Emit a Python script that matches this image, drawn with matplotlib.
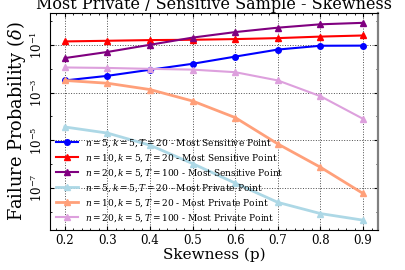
import numpy as np
import matplotlib
matplotlib.use('Agg')
import matplotlib.pyplot as plt
from matplotlib.ticker import FixedLocator, MultipleLocator, NullFormatter

# skewness values on the x axis
skew = [0.2, 0.3, 0.4, 0.5, 0.6, 0.7, 0.8, 0.9]

# most sensitive point
sens_n5 = [3.2e-3, 5.0e-3, 9.0e-3, 1.6e-2, 3.2e-2, 6.3e-2, 9.1e-2, 9.2e-2]
sens_n10 = [0.138, 0.147, 0.157, 0.162, 0.173, 0.19, 0.22, 0.245]
sens_n20 = [0.0277, 0.05, 0.1, 0.2, 0.34, 0.52, 0.72, 0.83]

# most private point
priv_n5 = [3.6e-5, 2.0e-5, 6.2e-6, 1.05e-6, 1.6e-7, 2.5e-8, 8.5e-9, 4.5e-9]
priv_n10 = [3.2e-3, 2.45e-3, 1.33e-3, 4.4e-4, 8.9e-5, 7.0e-6, 7.4e-7, 5.9e-8]
priv_n20 = [0.0112, 0.0107, 0.0098, 0.0091, 0.0071, 0.0032, 7.0e-4, 7.9e-5]

plt.rcParams['font.family'] = 'DejaVu Serif'
plt.rcParams['mathtext.fontset'] = 'dejavuserif'

fig = plt.figure(figsize=(4.06, 2.7), dpi=100)
ax = fig.add_axes([0.123, 0.148, 0.808, 0.804])

ax.plot(skew, sens_n5, color='blue', marker='o', ms=4, lw=1.5,
        label=r'$n=5, k=5, T=20$ - Most Sensitive Point')
ax.plot(skew, sens_n10, color='red', marker='^', ms=4, lw=1.5,
        label=r'$n=10, k=5, T=20$ - Most Sensitive Point')
ax.plot(skew, sens_n20, color='purple', marker='^', ms=4, lw=1.5,
        label=r'$n=20, k=5, T=100$ - Most Sensitive Point')
ax.plot(skew, priv_n5, color='lightblue', marker='^', ms=4, lw=2,
        label=r'$n=5, k=5, T=20$ - Most Private Point')
ax.plot(skew, priv_n10, color='lightsalmon', marker='^', ms=4, lw=2,
        label=r'$n=10, k=5, T=20$ - Most Private Point')
ax.plot(skew, priv_n20, color='plum', marker='^', ms=4, lw=1.5,
        label=r'$n=20, k=5, T=100$ - Most Private Point')

ax.set_yscale('log')
ax.yaxis.set_major_locator(FixedLocator([1e-1, 1e-3, 1e-5, 1e-7]))
ax.yaxis.set_minor_locator(FixedLocator([1, 1e-2, 1e-4, 1e-6, 1e-8]))
ax.yaxis.set_minor_formatter(NullFormatter())
ax.xaxis.set_major_locator(MultipleLocator(0.1))
ax.xaxis.set_minor_locator(MultipleLocator(0.02))

ax.tick_params(which='both', direction='in', top=True, right=True, labelsize=8.5)
ax.tick_params(which='major', length=3)
ax.tick_params(which='minor', length=1.5)
ax.tick_params(axis='x', pad=2.5)
for lab in ax.get_yticklabels():
    lab.set_rotation(90)
    lab.set_va('center')

ax.grid(True, which='major', color='black', linestyle=':', linewidth=0.7, alpha=0.7)
ax.spines['right'].set_color('gray')
ax.spines['right'].set_linewidth(1.6)

ax.set_title('Most Private / Sensitive Sample - Skewness', fontsize=11.5, pad=3)
ax.set_xlabel('Skewness (p)', fontsize=11, labelpad=1)
ax.set_ylabel(r'Failure Probability ($\delta$)', fontsize=12.8, labelpad=1)

ax.legend(loc='lower left', fontsize=6.5, frameon=False, handlelength=2.4,
          labelspacing=0.37, borderaxespad=0.3)

fig.savefig('out.png', dpi=100)
